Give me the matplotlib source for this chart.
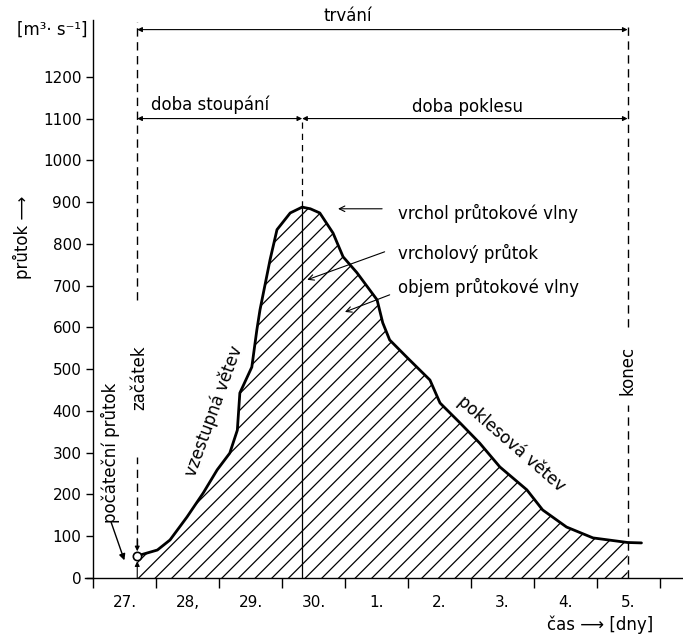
import numpy as np
import matplotlib
matplotlib.use("Agg")
import matplotlib.pyplot as plt

plt.rcParams['font.family'] = ['DejaVu Sans']
plt.rcParams['hatch.linewidth'] = 0.9

# hodnoty (dny od začátku 27., průtok m3/s)
days = [0.70, 1.02, 1.22, 1.49, 1.75, 1.97, 2.17, 2.29, 2.33, 2.52, 2.60, 2.65,
        2.81, 2.92, 3.13, 3.32, 3.45, 3.60, 3.81, 3.97, 4.19, 4.51, 4.60, 4.71,
        4.98, 5.35, 5.51, 5.83, 6.14, 6.46, 6.89, 7.14, 7.52, 7.94, 8.49, 8.71]
flow = [53, 67, 91, 146, 204, 259, 299, 354, 443, 505, 594, 642,
        762, 834, 874, 888, 884, 874, 826, 769, 731, 666, 611, 570,
        529, 474, 419, 371, 323, 266, 211, 163, 122, 96, 85, 84]
day_labels = ["27.", "28,", "29.", "30.", "1.", "2.", "3.", "4.", "5."]
y_ticks = list(range(0, 1300, 100))

t_start = 0.70   # začátek
t_peak = 3.32    # vrchol
t_end = 8.49     # konec
q_peak = 888

days = np.array(days)
flow = np.array(flow)

fig = plt.figure(figsize=(6.83, 6.41), dpi=100)
ax = fig.add_axes([85/683, 63/641, 598/683, 558/641])
ax.set_xlim(-0.13, 9.37)
ax.set_ylim(0, 1336)

# osy
ax.spines['top'].set_visible(False)
ax.spines['right'].set_visible(False)
ax.spines['left'].set_position(('data', 0))
ax.spines['left'].set_linewidth(1.0)
ax.spines['bottom'].set_linewidth(1.0)
ax.set_yticks(y_ticks)
ax.tick_params(axis='y', direction='out', length=5, width=1, labelsize=11)
ax.set_xticks(np.arange(0, 10))
ax.set_xticklabels([])
ax.set_xticks(np.arange(0.5, 9), minor=True)
ax.set_xticklabels(day_labels, minor=True)
ax.tick_params(axis='x', which='major', direction='out', length=7, width=1)
ax.tick_params(axis='x', which='minor', length=0, pad=12, labelsize=11)

# objem průtokové vlny - šrafování
ax.fill_between(days, flow, 0, where=days <= t_end + 1e-6, facecolor='none',
                edgecolor='black', hatch='//', linewidth=0)
ax.plot(days, flow, color='black', lw=2.0, solid_capstyle='round', solid_joinstyle='round')
ax.plot([t_start], [flow[0]], marker='o', ms=6, mfc='white', mec='black', mew=1.2)

# svislé čáry
ax.vlines(t_peak, 0, q_peak, color='black', lw=0.9)
ax.vlines(t_peak, q_peak, 1100, color='black', lw=0.9, linestyles=(0, (5, 4)))
ax.vlines(t_start, 666, 1332, color='black', lw=1.0, linestyles=(0, (6, 4)), clip_on=False)
ax.vlines(t_start, 74, 290, color='black', lw=1.0, linestyles=(0, (6, 4)))
ax.vlines(t_end, 600, 1332, color='black', lw=1.0, linestyles=(0, (6, 4)), clip_on=False)
ax.vlines(t_end, 0, 415, color='black', lw=1.0, linestyles=(0, (6, 4)))

arr = dict(arrowstyle='<|-|>', color='black', lw=0.8, mutation_scale=7, shrinkA=0, shrinkB=0)
ax.annotate('', xy=(t_start, 1313), xytext=(t_end, 1313), arrowprops=arr, annotation_clip=False)
ax.annotate('', xy=(t_start, 1100), xytext=(t_peak, 1100), arrowprops=arr)
ax.annotate('', xy=(t_peak, 1100), xytext=(t_end, 1100), arrowprops=arr)

# počáteční průtok - malé šipky
small = dict(arrowstyle='-|>', color='black', lw=0.8, mutation_scale=7, shrinkA=0, shrinkB=0)
ax.annotate('', xy=(t_start, 40), xytext=(t_start, 0), arrowprops=small)
ax.annotate('', xy=(t_start, 64), xytext=(t_start, 95), arrowprops=small)
ax.annotate('', xy=(0.51, 36), xytext=(0.27, 140), arrowprops=dict(arrowstyle='-|>', color='black', lw=1.0, mutation_scale=9))

fs = 12
ax.text(4.05, 1325, "trvání", ha='center', va='bottom', fontsize=fs, clip_on=False)
ax.text(1.86, 1133, "doba stoupání", ha='center', va='center', fontsize=fs)
ax.text(5.94, 1128, "doba poklesu", ha='center', va='center', fontsize=fs)
ax.text(0.73, 480, "začátek", ha='center', va='center', rotation=90, fontsize=fs)
ax.text(0.27, 300, "počáteční průtok", ha='center', va='center', rotation=90, fontsize=fs)
ax.text(t_end, 498, "konec", ha='center', va='center', rotation=90, fontsize=fs)
ax.text(1.92, 400, "vzestupná větev", ha='center', va='center', rotation=70, fontsize=fs)
ax.text(6.65, 322, "poklesová větev", ha='center', va='center', rotation=-41, fontsize=fs)

ax.text(4.84, 874, "vrchol průtokové vlny", ha='left', va='center', fontsize=fs)
ax.text(4.84, 778, "vrcholový průtok", ha='left', va='center', fontsize=fs)
ax.text(4.84, 695, "objem průtokové vlny", ha='left', va='center', fontsize=fs)
pt = dict(arrowstyle='->', color='black', lw=0.8, shrinkA=0, shrinkB=0)
ax.annotate('', xy=(3.89, 884), xytext=(4.59, 884), arrowprops=pt)
ax.annotate('', xy=(3.40, 714), xytext=(4.63, 781), arrowprops=pt)
ax.annotate('', xy=(4.0, 637), xytext=(4.71, 678), arrowprops=pt)

# popisky os
fig.text(52/683, 1 - 30/641, "[m³· s⁻¹]", ha='center', va='center', fontsize=12)
fig.text(22/683, 1 - 237/641, "průtok ⟶", ha='center', va='center', rotation=90, fontsize=12)
fig.text(600/683, 1 - 625/641, "čas ⟶ [dny]", ha='center', va='center', fontsize=12)

fig.savefig("out.png", dpi=100)
